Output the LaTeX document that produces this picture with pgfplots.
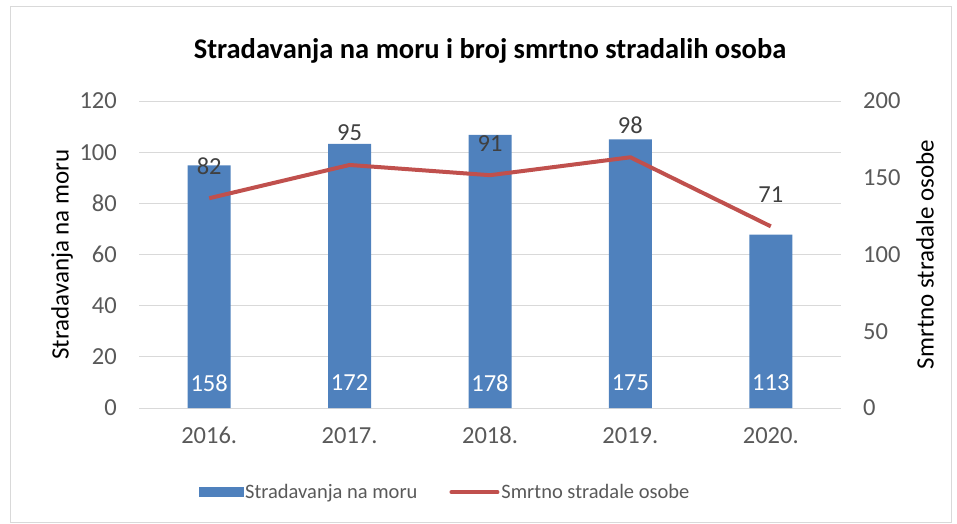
\documentclass[border=0pt]{standalone}
\usepackage{pgfplots}
\pgfplotsset{compat=1.18}
\usepackage{pgfplotstable}
\usepackage{fontspec}
\setmainfont{Carlito}
\definecolor{barblue}{HTML}{4F81BD}
\definecolor{linered}{HTML}{C0504D}
\definecolor{gridgray}{HTML}{D9D9D9}
\definecolor{ticktext}{HTML}{595959}
\definecolor{lbltext}{HTML}{404040}
\definecolor{framegray}{HTML}{D9D9D9}
\pgfplotstableread{
idx year accidents deaths
0 2016. 82 158
1 2017. 95 172
2 2018. 91 178
3 2019. 98 175
4 2020. 71 113
}\data
\pgfplotsset{
  base/.style={
    scale only axis, width=702pt, height=307pt,
    xmin=-0.5, xmax=4.5,
    at={(139pt,115pt)}, anchor=south west,
    font=\fontsize{24.5}{28}\selectfont,
    /pgf/number format/assume math mode=true,
    axis line style={draw=none},
    major tick length=0pt,
    every tick label/.append style={inner sep=0pt, text=ticktext},
    every axis y label/.append style={font=\fontsize{25}{29}\selectfont},
  }
}
\begin{document}
\begin{tikzpicture}[x=1pt,y=1pt]
\path (0,0) rectangle (957,523);
\draw[framegray, line width=1pt] (10,1) rectangle (951,516);
\node[font=\fontsize{28.5}{33}\selectfont\bfseries] at (490,472) {Stradavanja na moru i broj smrtno stradalih osoba};
% axis 1: left scale, grid
\begin{axis}[base,
  ymin=0, ymax=120, ytick={0,20,...,120},
  ymajorgrids, grid style={gridgray, line width=1pt},
  xtick={0,...,4}, xticklabels from table={\data}{year},
  xticklabel style={yshift=-19pt},
  yticklabel style={xshift=-22pt},
  ylabel={Stradavanja na moru},
  ylabel style={at={(axis description cs:-0.1097,0.5)}, anchor=center},
]
\end{axis}
% axis 2: bars on right scale
\begin{axis}[base,
  ymin=0, ymax=200, ytick={0,50,...,200},
  yticklabel pos=right,
  xtick=\empty,
  yticklabel style={xshift=22pt},
  ylabel={Smrtno stradale osobe},
  ylabel style={at={(axis description cs:1.1197,0.5)}, anchor=center, rotate=0},
]
\addplot[ybar, bar width=43pt, fill=barblue, draw=none] table[x=idx, y=deaths] {\data};
\addplot[draw=none, mark=none, nodes near coords, point meta=explicit,
  nodes near coords style={text=white, anchor=center, yshift=25pt, inner sep=0pt}]
  table[x=idx, y expr=0, meta=deaths] {\data};
\end{axis}
% axis 3: line on left scale
\begin{axis}[base,
  ymin=0, ymax=120, hide axis,
  legend columns=2,
  legend style={draw=none, fill=none, at={(0.436,-0.274)}, anchor=center,
    font=\fontsize{20.5}{24}\selectfont, text=ticktext,
    /tikz/every even column/.append style={column sep=30pt}},
]
\addlegendimage{legend image code/.code={\fill[barblue] (0pt,-4.5pt) rectangle (44pt,4.5pt);}}
\addlegendentry{Stradavanja na moru}
\addplot[linered, line width=4pt, mark=none, line join=round,
  nodes near coords, point meta=explicit,
  nodes near coords style={text=lbltext, anchor=center, yshift=32pt, inner sep=0pt},
  legend image code/.code={\draw[linered, line width=4pt, line cap=round] (0pt,0pt) -- (46pt,0pt);}]
  table[x=idx, y=accidents, meta=accidents] {\data};
\addlegendentry{Smrtno stradale osobe}
\end{axis}
\end{tikzpicture}
\end{document}
